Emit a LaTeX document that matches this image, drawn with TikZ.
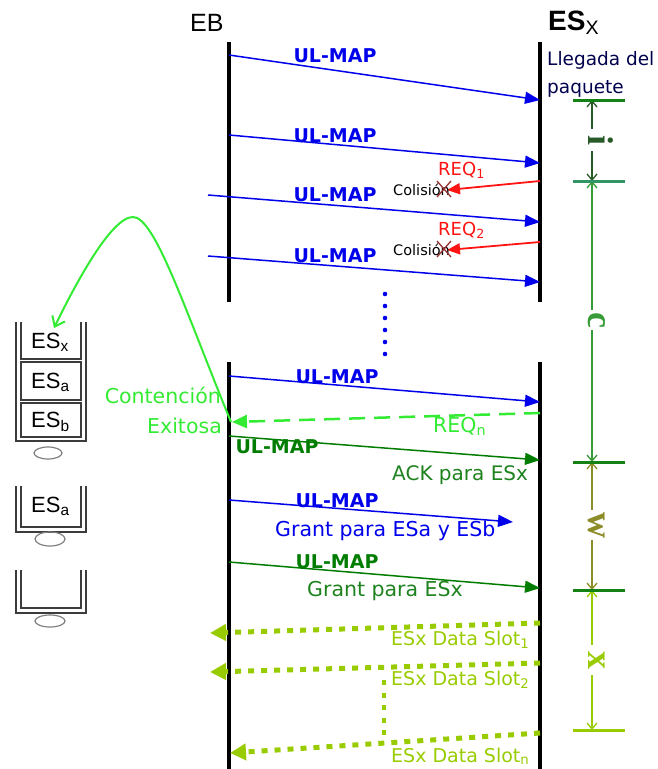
\documentclass[tikz,border=0pt]{standalone}
\usepackage{fontspec}
\setmainfont{DejaVu Sans}
\newfontfamily\arialf{Liberation Sans}
\newfontfamily\timesf{Liberation Serif}
\usetikzlibrary{arrows.meta}
\newcommand{\fsz}[1]{\fontsize{#1}{#1}\selectfont}
\definecolor{ulblue}{RGB}{0,0,235}
\definecolor{ulgreen}{RGB}{0,125,0}
\definecolor{reqred}{RGB}{255,20,20}
\definecolor{brightgreen}{RGB}{51,235,51}
\definecolor{slotgreen}{RGB}{153,204,0}
\definecolor{xmark}{RGB}{150,50,50}
\definecolor{igreen}{RGB}{40,90,40}
\definecolor{tickgreen}{RGB}{20,130,20}
\definecolor{seagreentick}{RGB}{50,150,100}
\definecolor{cgreen}{RGB}{55,155,55}
\definecolor{wolive}{RGB}{140,140,40}
\definecolor{ackgreen}{RGB}{30,130,30}
\definecolor{qgray}{RGB}{60,60,60}
\begin{document}
\begin{tikzpicture}[x=1pt,y=-1pt,
  lifeline/.style={line width=3.5pt, black},
  msgblue/.style={ulblue, line width=1.5pt, -{Triangle[length=15pt,width=12pt]}},
  msggreen/.style={ulgreen, line width=1.5pt, -{Triangle[length=15pt,width=12pt]}},
  msgred/.style={reqred, line width=1.8pt, -{Triangle[length=13pt,width=11pt]}},
  msgreq/.style={brightgreen, line width=2.5pt, dash pattern=on 16pt off 9pt, -{Triangle[length=15pt,width=13pt]}},
  slotmsg/.style={slotgreen, line width=5pt, dash pattern=on 6pt off 7pt, -{Triangle[length=16pt,width=16pt]}},
  ullabel/.style={font=\fsz{19}\bfseries, inner sep=0pt, anchor=base},
  txt/.style={font=\fsz{20.5}, inner sep=0pt, anchor=base west},
  coltxt/.style={font=\fsz{14.5}, inner sep=0pt, anchor=base west, black},
  qtxt/.style={font=\arialf\fsz{22}, inner sep=0pt, anchor=base west, black},
  qline/.style={qgray, line width=1.2pt},
  tickline/.style={line width=3pt},
  spanarrow/.style={line width=1.3pt, {Straight Barb[length=6pt,width=10pt]}-{Straight Barb[length=6pt,width=10pt]}},
  lettr/.style={font=\timesf\bfseries\fsz{36}, rotate=-90, anchor=base, inner ysep=2pt, inner xsep=2pt, fill=white}
]
\useasboundingbox (0,0) rectangle (658,769);

% ---------- headings ----------
\node[font=\arialf\fsz{25}, inner sep=0pt, anchor=base west] (eb) at (190,31) {EB};
\node[font=\arialf\fsz{28}\bfseries, inner sep=0pt, anchor=base west] (esx) at (548,30) {ES\textsubscript{\mdseries X}};
\node[font=\fsz{18.5}, inner sep=0pt, anchor=base west, black!70!blue] (lleg) at (547,65) {Llegada del};
\node[font=\fsz{18.5}, inner sep=0pt, anchor=base west, black!70!blue] (paq) at (547,93) {paquete};

% ---------- lifelines ----------
\coordinate (ebA) at (229,42);  \coordinate (ebB) at (229,302);
\coordinate (ebC) at (229,362); \coordinate (ebD) at (229,769);
\coordinate (esA) at (540,42);  \coordinate (esB) at (540,302);
\coordinate (esC) at (540,362); \coordinate (esD) at (540,769);
\draw[lifeline] (ebA) -- (ebB);
\draw[lifeline] (ebC) -- (ebD);
\draw[lifeline] (esA) -- (esB);
\draw[lifeline] (esC) -- (esD);

% ---------- message end points ----------
\coordinate (m1a) at (229,55);  \coordinate (m1b) at (540,100);
\coordinate (m2a) at (229,135); \coordinate (m2b) at (540,163);
\coordinate (r1a) at (540,181); \coordinate (r1b) at (447,190);
\coordinate (m3a) at (208,195); \coordinate (m3b) at (540,222);
\coordinate (r2a) at (540,242); \coordinate (r2b) at (447,250);
\coordinate (m4a) at (208,256); \coordinate (m4b) at (540,282);
\coordinate (m5a) at (229,376); \coordinate (m5b) at (540,402);
\coordinate (rna) at (540,413); \coordinate (rnb) at (232,422);
\coordinate (m6a) at (229,436); \coordinate (m6b) at (540,460);
\coordinate (m7a) at (229,500); \coordinate (m7b) at (513,522);
\coordinate (m8a) at (229,562); \coordinate (m8b) at (540,588);
\coordinate (s1a) at (540,623); \coordinate (s1b) at (210,633);
\coordinate (s2a) at (540,663); \coordinate (s2b) at (210,672);
\coordinate (sna) at (540,733); \coordinate (snb) at (230,753);
\coordinate (vda) at (384,680); \coordinate (vdb) at (384,740);

% ---------- messages ----------
\draw[msgblue] (m1a) -- (m1b);
\draw[msgblue] (m2a) -- (m2b);
\draw[msgred] (r1a) -- (r1b);
\draw[msgblue] (m3a) -- (m3b);
\draw[msgred] (r2a) -- (r2b);
\draw[msgblue] (m4a) -- (m4b);
\draw[msgblue] (m5a) -- (m5b);
\draw[msgreq] (rna) -- (rnb);
\draw[msggreen] (m6a) -- (m6b);
\draw[msgblue] (m7a) -- (m7b);
\draw[msggreen] (m8a) -- (m8b);
\draw[slotmsg] (s1a) -- (s1b);
\draw[slotmsg] (s2a) -- (s2b);
\draw[slotmsg] (sna) -- (snb);
\draw[slotgreen, line width=4pt, dash pattern=on 5pt off 7.5pt] (vda) -- (vdb);

% continuation dots
\foreach \yy in {294,306,318,330,342,354} \fill[ulblue] (385,\yy) circle (2.3);

% ---------- message labels ----------
\node[ullabel, ulblue] (u1) at (335,62) {UL-MAP};
\node[ullabel, ulblue] (u2) at (335,142) {UL-MAP};
\node[ullabel, ulblue] (u3) at (335,201) {UL-MAP};
\node[ullabel, ulblue] (u4) at (335,262) {UL-MAP};
\node[ullabel, ulblue] (u5) at (337,383) {UL-MAP};
\node[ullabel, ulgreen] (u6) at (277,453) {UL-MAP};
\node[ullabel, ulblue] (u7) at (337,507) {UL-MAP};
\node[ullabel, ulgreen] (u8) at (337,568) {UL-MAP};

\node[txt, reqred, font=\fsz{18}] (req1) at (438,175) {REQ\textsubscript{1}};
\node[txt, reqred, font=\fsz{18}] (req2) at (438,235) {REQ\textsubscript{2}};
\node[coltxt] (col1) at (393,195) {Colisión};
\node[coltxt] (col2) at (393,255) {Colisión};
\draw[xmark, line width=1.3pt] (437,181) -- (451,197) (437,197) -- (451,181);
\draw[xmark, line width=1.3pt] (437,241) -- (451,257) (437,257) -- (451,241);

\node[txt, brightgreen] (reqn) at (433,432) {REQ\textsubscript{n}};
\node[txt, anchor=base east, brightgreen] (cont) at (221,403) {Contención};
\node[txt, anchor=base east, brightgreen] (exit) at (222,433) {Exitosa};
\node[txt, ackgreen, font=\fsz{20}] (ack) at (392,480) {ACK para ESx};
\node[txt, ulblue] (gab) at (275,536) {Grant para ESa y ESb};
\node[txt, ackgreen] (gx) at (307,596) {Grant para ESx};
\node[txt, slotgreen, font=\fsz{19}] (ds1) at (391,645) {ESx Data Slot\textsubscript{1}};
\node[txt, slotgreen, font=\fsz{19}] (ds2) at (391,685) {ESx Data Slot\textsubscript{2}};
\node[txt, slotgreen, font=\fsz{19}] (dsn) at (391,762) {ESx Data Slot\textsubscript{n}};

% ---------- queues ----------
% queue 1
\draw[qline] (16,322) -- (16,441) -- (86,441) -- (86,322);
\draw[qline] (21,322) -- (21,359) -- (81,359) -- (81,322);
\draw[qline] (21,362) rectangle (81,400);
\draw[qline] (21,403) rectangle (81,437);
\draw[qline, gray] (48,453) ellipse [x radius=14, y radius=6];
\node[qtxt] (q1x) at (31,348) {ES\textsubscript{x}};
\node[qtxt] (q1a) at (31,388) {ES\textsubscript{a}};
\node[qtxt] (q1b) at (31,427) {ES\textsubscript{b}};
% queue 2
\draw[qline] (16,486) -- (16,532) -- (86,532) -- (86,486);
\draw[qline] (21,486) -- (21,527) -- (81,527) -- (81,486);
\draw[qline, gray] (50,539) ellipse [x radius=15, y radius=7];
\node[qtxt] (q2a) at (31,512) {ES\textsubscript{a}};
% queue 3
\draw[qline] (16,570) -- (16,613) -- (86,613) -- (86,570);
\draw[qline] (21,570) -- (21,608) -- (81,608) -- (81,570);
\draw[qline, gray] (50,621) ellipse [x radius=15, y radius=6];

% ---------- contention curve ----------
\coordinate (cStart) at (231,422);
\coordinate (cPeak) at (133,217);
\coordinate (cEnd) at (54,328);
\draw[brightgreen, line width=2pt, -{Straight Barb[length=9pt,width=14pt]}]
  (cStart) .. controls (185,310) and (155,217) .. (cPeak)
  .. controls (111,217) and (75,285) .. (cEnd);

% ---------- right-side timeline ----------
\coordinate (t1) at (592,100);
\coordinate (t2) at (592,181);
\coordinate (t3) at (592,462);
\coordinate (t4) at (592,590);
\coordinate (t5) at (592,730);
\draw[spanarrow, igreen] (t1) -- (t2);
\draw[spanarrow, cgreen] (t2) -- (t3);
\draw[spanarrow, wolive] (t3) -- (t4);
\draw[spanarrow, slotgreen] (t4) -- (t5);
\draw[tickline, tickgreen] (573,100) -- (625,100);
\draw[tickline, seagreentick] (573,181) -- (625,181);
\draw[tickline, tickgreen] (573,462) -- (625,462);
\draw[tickline, tickgreen] (573,590) -- (625,590);
\draw[tickline, slotgreen] (573,730) -- (625,730);
\node[lettr, text=igreen, inner xsep=6pt] (li) at (588,140) {i};
\node[lettr, text=cgreen] (lc) at (588,320) {c};
\node[lettr, text=wolive] (lw) at (588,525) {w};
\node[lettr, text=slotgreen, inner xsep=6pt] (lx) at (588,660) {x};
\end{tikzpicture}
\end{document}
